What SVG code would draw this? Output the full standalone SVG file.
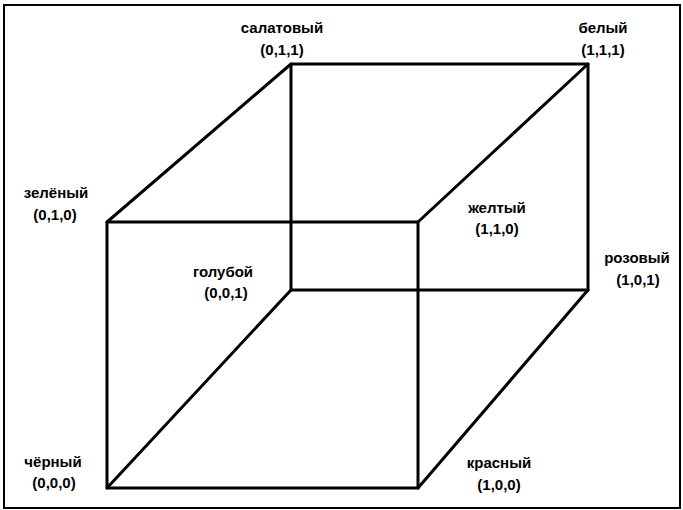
<svg xmlns="http://www.w3.org/2000/svg" width="683" height="510" viewBox="0 0 683 510">
<style>
.edge{stroke:#000;stroke-width:3;fill:none;stroke-linecap:round;stroke-linejoin:round}
.lbl{font-family:"Liberation Sans",Arial,sans-serif;font-weight:bold;font-size:15px;fill:#000;text-anchor:middle}
</style>
<rect width="683" height="510" fill="#fff"/>
<rect x="4" y="5" width="676" height="503" fill="none" stroke="#000" stroke-width="2"/>
<g id="connectors">
<polyline class="edge" points="107,222 418,222 418,488 107,488 107,222"/>
<polyline class="edge" points="291,64 588,64 588,290 291,290 291,64"/>
<line class="edge" x1="107" y1="222" x2="291" y2="64"/>
<line class="edge" x1="418" y1="222" x2="588" y2="64"/>
<line class="edge" x1="418" y1="488" x2="588" y2="290"/>
<line class="edge" x1="107" y1="488" x2="291" y2="290"/>
</g>
<g id="n011"><text class="lbl" x="282" y="33">салатовый</text><text class="lbl" x="282" y="55">(0,1,1)</text></g>
<g id="n111"><text class="lbl" x="603" y="33">белый</text><text class="lbl" x="603" y="55">(1,1,1)</text></g>
<g id="n010"><text class="lbl" x="56" y="198">зелёный</text><text class="lbl" x="55" y="220">(0,1,0)</text></g>
<g id="n110"><text class="lbl" x="497" y="213">желтый</text><text class="lbl" x="497" y="234">(1,1,0)</text></g>
<g id="n101"><text class="lbl" x="637" y="263">розовый</text><text class="lbl" x="638" y="285">(1,0,1)</text></g>
<g id="n001"><text class="lbl" x="223" y="277">голубой</text><text class="lbl" x="226" y="298">(0,0,1)</text></g>
<g id="n000"><text class="lbl" x="53" y="467">чёрный</text><text class="lbl" x="54" y="488">(0,0,0)</text></g>
<g id="n100"><text class="lbl" x="499" y="468">красный</text><text class="lbl" x="499" y="490">(1,0,0)</text></g>
</svg>
